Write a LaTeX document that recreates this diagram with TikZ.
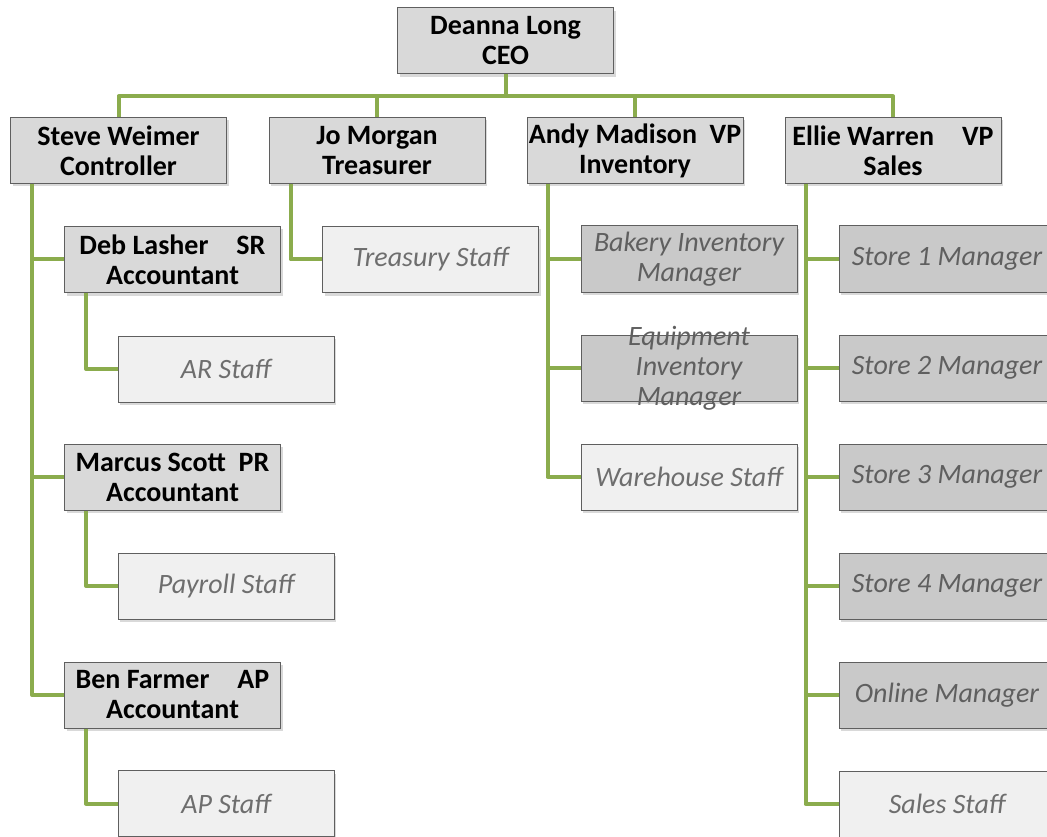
\documentclass[tikz,border=0pt]{standalone}
\usepackage{fontspec}
\setmainfont{Carlito}
\usetikzlibrary{calc,shadows}

\definecolor{linkgreen}{RGB}{139,172,77}
\definecolor{boxline}{RGB}{95,95,95}
\definecolor{headgray}{RGB}{217,217,217}
\definecolor{mgrgray}{RGB}{201,201,201}
\definecolor{staffgray}{RGB}{240,240,240}
\definecolor{mgrtext}{RGB}{95,95,95}
\definecolor{stafftext}{RGB}{110,110,110}

\begin{document}
\begin{tikzpicture}[x=1pt,y=-1pt,
	box/.style={draw=boxline, line width=1pt, minimum width=216pt, minimum height=66pt, inner sep=0pt, align=center,
		drop shadow={opacity=0.3, shadow xshift=2pt, shadow yshift=-3pt}},
	head/.style={box, fill=headgray, font=\bfseries\fontsize{28}{30}\selectfont},
	mgr/.style={box, fill=mgrgray, text=mgrtext, font=\itshape\fontsize{28}{30}\selectfont},
	staff/.style={box, fill=staffgray, text=stafftext, font=\itshape\fontsize{28}{30}\selectfont},
	link/.style={draw=linkgreen, line width=4pt, line join=round}]

		\useasboundingbox (0,0) rectangle (1047,837);

		% top
		\node[head] (ceo) at (505.5,41) {Deanna Long\\CEO};
		\node[head] (steve) at (118.5,150.5) {Steve Weimer\\Controller};
		\node[head] (jo) at (377,150.5) {Jo Morgan\\Treasurer};
		\node[head] (andy) at (635,150.5) {Andy Madison\ \ VP\\Inventory};
		\node[head] (ellie) at (893,150.5) {Ellie Warren\quad VP\\Sales};

		% controller
		\node[head] (deb) at (172.5,259.5) {Deb Lasher\quad SR\\Accountant};
		\node[staff] (ar) at (226,369) {AR Staff};
		\node[head] (marcus) at (172.5,477) {Marcus Scott\ \ PR\\Accountant};
		\node[staff] (payroll) at (226,586) {Payroll Staff};
		\node[head] (ben) at (172.5,695) {Ben Farmer\quad AP\\Accountant};
		\node[staff] (ap) at (226,803.5) {AP Staff};

		% treasurer
		\node[staff] (treasury) at (430.5,259.5) {Treasury Staff};

		% inventory
		\node[mgr] (bakery) at (689,259) {Bakery Inventory\\Manager};
		\node[mgr, label={[text=mgrtext, font=\itshape\fontsize{28}{30}\selectfont, align=center]center:{Equipment\\Inventory\\Manager}}] (equip) at (689,368) {};
		\node[staff] (warehouse) at (689,477) {Warehouse Staff};

		% sales
		\node[mgr] (store1) at (947,259) {Store 1 Manager};
		\node[mgr] (store2) at (947,368) {Store 2 Manager};
		\node[mgr] (store3) at (947,477) {Store 3 Manager};
		\node[mgr] (store4) at (947,586) {Store 4 Manager};
		\node[mgr] (online) at (947,695) {Online Manager};
		\node[staff] (sales) at (947,804) {Sales Staff};

		\coordinate (bus) at ($(ceo.south)+(0,22)$);
		\draw[link] (ceo.south) -- (bus);
		\foreach \n in {steve,jo,andy,ellie}
			\draw[link] (bus) -| (\n.north);

		\foreach \n in {deb,marcus,ben}
			\draw[link] ($(steve.south west)+(22,0)$) |- (\n.west);
		\draw[link] ($(deb.south west)+(22,0)$) |- (ar.west);
		\draw[link] ($(marcus.south west)+(22,0)$) |- (payroll.west);
		\draw[link] ($(ben.south west)+(22,0)$) |- (ap.west);
		\draw[link] ($(jo.south west)+(22,0)$) |- (treasury.west);
		\foreach \n in {bakery,equip,warehouse}
			\draw[link] ($(andy.south west)+(21,0)$) |- (\n.west);
		\foreach \n in {store1,store2,store3,store4,online,sales}
			\draw[link] ($(ellie.south west)+(21,0)$) |- (\n.west);

\end{tikzpicture}
\end{document}
